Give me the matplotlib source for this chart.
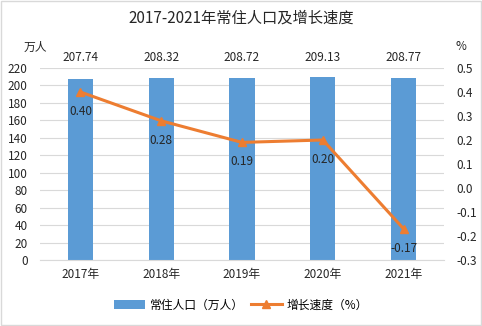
import matplotlib
matplotlib.use("Agg")
import matplotlib.pyplot as plt
from matplotlib.patches import Rectangle

plt.rcParams['font.family'] = ['Noto Sans CJK SC', 'DejaVu Sans']

years = ["2017年", "2018年", "2019年", "2020年", "2021年"]
population = [207.74, 208.32, 208.72, 209.13, 208.77]
growth = [0.40, 0.28, 0.19, 0.20, -0.17]

bar_color = "#5B9BD5"
line_color = "#ED7D31"
text_color = "#262626"

fig = plt.figure(figsize=(4.82, 3.26), dpi=100)
ax = fig.add_axes([40 / 482, 1 - 260 / 326, 404 / 482, 192 / 326])
x = list(range(len(years)))

ax.bar(x, population, width=0.31, color=bar_color, zorder=2, label="常住人口（万人）")
ax.set_ylim(0, 220)
ax.set_yticks(range(0, 221, 20))
ax.set_xlim(-0.5, 4.5)
ax.set_xticks(x)
ax.set_xticklabels(years)
ax.grid(axis="y", color="#D9D9D9", linewidth=0.8, zorder=0)
for s in ax.spines.values():
    s.set_visible(False)
ax.spines["bottom"].set_visible(True)
ax.spines["bottom"].set_color("#D9D9D9")
ax.tick_params(length=0, labelsize=8.5, colors=text_color, pad=6)
ax.tick_params(axis="y", pad=9)

for xi, v in zip(x, population):
    ax.annotate(f"{v:.2f}", (xi, 220), xytext=(0, 3), textcoords="offset points",
                ha="center", va="bottom", fontsize=8.5, color=text_color)

ax2 = ax.twinx()
ax2.plot(x, growth, color=line_color, linewidth=2.2, marker="^", markersize=6,
         zorder=3, label="增长速度（%）")
ax2.set_ylim(-0.3, 0.5)
ax2.set_yticks([i / 10 for i in range(-3, 6)])
ax2.set_yticklabels([f"{i / 10:.1f}" for i in range(-3, 6)])
for s in ax2.spines.values():
    s.set_visible(False)
ax2.tick_params(length=0, labelsize=8.5, colors=text_color, pad=9)

for xi, v in zip(x, growth):
    ax2.annotate(f"{v:.2f}", (xi, v), xytext=(0, -14), textcoords="offset points",
                 ha="center", va="center", fontsize=8.5, color=text_color)

fig.text(35 / 482, 1 - 47 / 326, "万人", ha="center", va="center", fontsize=8.5, color=text_color)
fig.text(461 / 482, 1 - 47 / 326, "%", ha="center", va="center", fontsize=8.5, color=text_color)
fig.text(0.5, 1 - 18 / 326, "2017-2021年常住人口及增长速度", ha="center", va="center",
         fontsize=11, color=text_color)

h1, l1 = ax.get_legend_handles_labels()
h2, l2 = ax2.get_legend_handles_labels()
fig.legend(h1 + h2, l1 + l2, loc="center", bbox_to_anchor=(0.5, 1 - 305 / 326),
           ncol=2, frameon=False, fontsize=8.5, handlelength=2.6, columnspacing=0.6,
           handletextpad=0.4)

fig.patches.append(Rectangle((0.002, 0.003), 0.995, 0.994, transform=fig.transFigure,
                             fill=False, edgecolor="#D9D9D9", linewidth=1))

fig.savefig("out.png", dpi=100)
